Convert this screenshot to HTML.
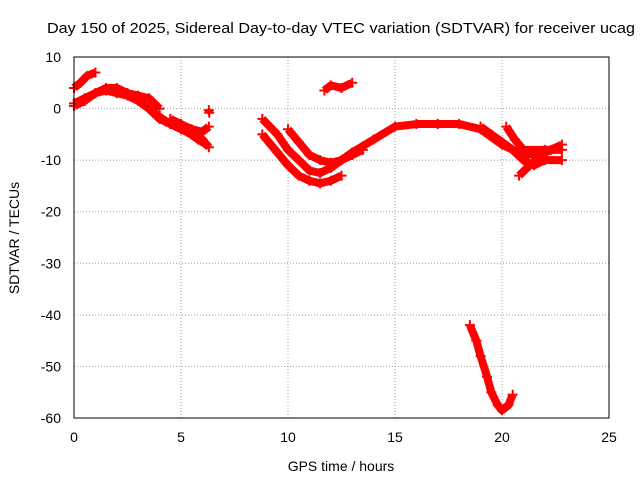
<!DOCTYPE html>
<html><head><meta charset="utf-8"><style>body{margin:0;background:#fff}svg{display:block;font-family:"Liberation Sans",sans-serif}</style></head>
<body>
<svg id="chart" width="640" height="480">
<rect width="640" height="480" fill="#fff"/>
<g id="grid"></g><g id="ticks"></g><g id="series"></g>
<rect x="74" y="57" width="535" height="361" fill="none" stroke="#000" stroke-width="1"/>
<text x="47" y="33" font-size="15" textLength="588" lengthAdjust="spacingAndGlyphs">Day 150 of 2025, Sidereal Day-to-day VTEC variation (SDTVAR) for receiver ucag</text>
<text x="341" y="471" font-size="14" text-anchor="middle">GPS time / hours</text>
<text transform="translate(19,238) rotate(-90)" font-size="14" text-anchor="middle">SDTVAR / TECUs</text>
</svg>
<script>
const xTicks=[0,5,10,15,20,25];
const yTicks=[10,0,-10,-20,-30,-40,-50,-60];
const trackA_t=[0,0.5,1,1.5,2,2.5,3,3.5,4,4.5,5,5.5,6,6.3];
const trackA_v=[1,2,3,3.5,3,2.5,1.5,0,-2,-3,-4,-5,-6,-7.5];
const trackB_t=[0,0.3,0.6,1];
const trackB_v=[4,5,6.3,7];
const trackC_t=[0,0.5,1,1.5,2,2.5,3,3.5,4];
const trackC_v=[0.5,1.5,3,4,4,3,2.5,2,0];
const trackD_t=[4.5,5,5.5,6,6.3];
const trackD_v=[-2,-3,-4,-4.5,-3.5];
const trackL_t=[3.8,4.3,4.8,5.3,5.8,6.2];
const trackL_v=[-1,-2.5,-3,-4.5,-6,-7];
const trackP_t=[6.3,6.32];
const trackP_v=[-0.3,-0.8];
const trackE_t=[8.8,9.5,10,10.5,11,11.5,12,12.5,13,14,15,16,17,18,19,20,21,22,22.8];
const trackE_v=[-2,-5,-8,-10,-12,-12.5,-11.5,-10,-8.5,-6,-3.5,-3,-3,-3,-4,-7,-9,-8.5,-7];
const trackF_t=[8.8,9.5,10,10.5,11,11.5,12,12.5];
const trackF_v=[-5,-8.5,-11,-13,-14,-14.5,-14,-13];
const trackG_t=[10,10.5,11,11.5,12,12.5,13,13.5];
const trackG_v=[-4,-6.5,-9,-10,-10.5,-10,-9,-8];
const trackH_t=[11.7,12,12.5,13];
const trackH_v=[3.5,4.5,4,5];
const trackI_t=[19,19.5,20,20.5,21,21.5,22,22.8];
const trackI_v=[-3.5,-5,-6.5,-8,-10,-11,-10,-10];
const trackJ_t=[20.2,20.6,21,22,22.8];
const trackJ_v=[-3.5,-6,-8,-8,-8];
const trackM_t=[20.8,21.3,21.8,22.3];
const trackM_v=[-13,-11,-9,-8];
const trackK_t=[18.5,18.8,19,19.3,19.5,19.8,20,20.3,20.5];
const trackK_v=[-42,-45,-48,-52,-55,-57.5,-58.5,-57.5,-55.5];
const tracks=[[trackA_t,trackA_v],[trackB_t,trackB_v],[trackC_t,trackC_v],[trackD_t,trackD_v],[trackL_t,trackL_v],[trackP_t,trackP_v],[trackE_t,trackE_v],[trackF_t,trackF_v],[trackG_t,trackG_v],[trackH_t,trackH_v],[trackI_t,trackI_v],[trackJ_t,trackJ_v],[trackM_t,trackM_v],[trackK_t,trackK_v]];
const NS='http://www.w3.org/2000/svg';
const X0=74,X1=609,Y0=418,Y1=57;
const sx=t=>X0+(t-0)/(25-0)*(X1-X0);
const sy=v=>Y0-(v-(-60))/(10-(-60))*(Y0-Y1);
function mk(tag,parent){const e=document.createElementNS(NS,tag);document.getElementById(parent).appendChild(e);return e;}
xTicks.forEach(t=>{
 const x=sx(t);
 if(t>0&&t<25){const g=mk('line','grid');g.setAttribute('x1',x);g.setAttribute('x2',x);g.setAttribute('y1',Y1);g.setAttribute('y2',Y0);g.setAttribute('stroke','#a0a0a0');g.setAttribute('stroke-dasharray','1,2');
 
 }
 const l=mk('text','ticks');l.setAttribute('x',x);l.setAttribute('y',Y0+24);l.setAttribute('font-size','14');l.setAttribute('text-anchor','middle');l.textContent=t;
 
 
});
yTicks.forEach(v=>{
 const y=sy(v);
 if(v<10&&v>-60){const g=mk('line','grid');g.setAttribute('x1',X0);g.setAttribute('x2',X1);g.setAttribute('y1',y);g.setAttribute('y2',y);g.setAttribute('stroke','#a0a0a0');g.setAttribute('stroke-dasharray','1,2');
 
 }
 const l=mk('text','ticks');l.setAttribute('x',X0-13);l.setAttribute('y',y+5);l.setAttribute('font-size','14');l.setAttribute('text-anchor','end');l.textContent=v;
 
 
});
tracks.forEach(([ts,vs])=>{
 const p=mk('polyline','series');
 p.setAttribute('points',ts.map((t,i)=>sx(t)+','+sy(vs[i])).join(' '));
 p.setAttribute('fill','none');p.setAttribute('stroke','#ff0000');p.setAttribute('stroke-width','8');p.setAttribute('stroke-linejoin','round');
 
 
 ts.forEach((t,i)=>{
  const m=mk('path','series');const x=sx(t),y=sy(vs[i]);
  m.setAttribute('d',`M${x-5},${y}H${x+5}M${x},${y-5}V${y+5}`);m.setAttribute('stroke','#ff0000');m.setAttribute('stroke-width','2');
  
  
 });
});
</script>
</body></html>
